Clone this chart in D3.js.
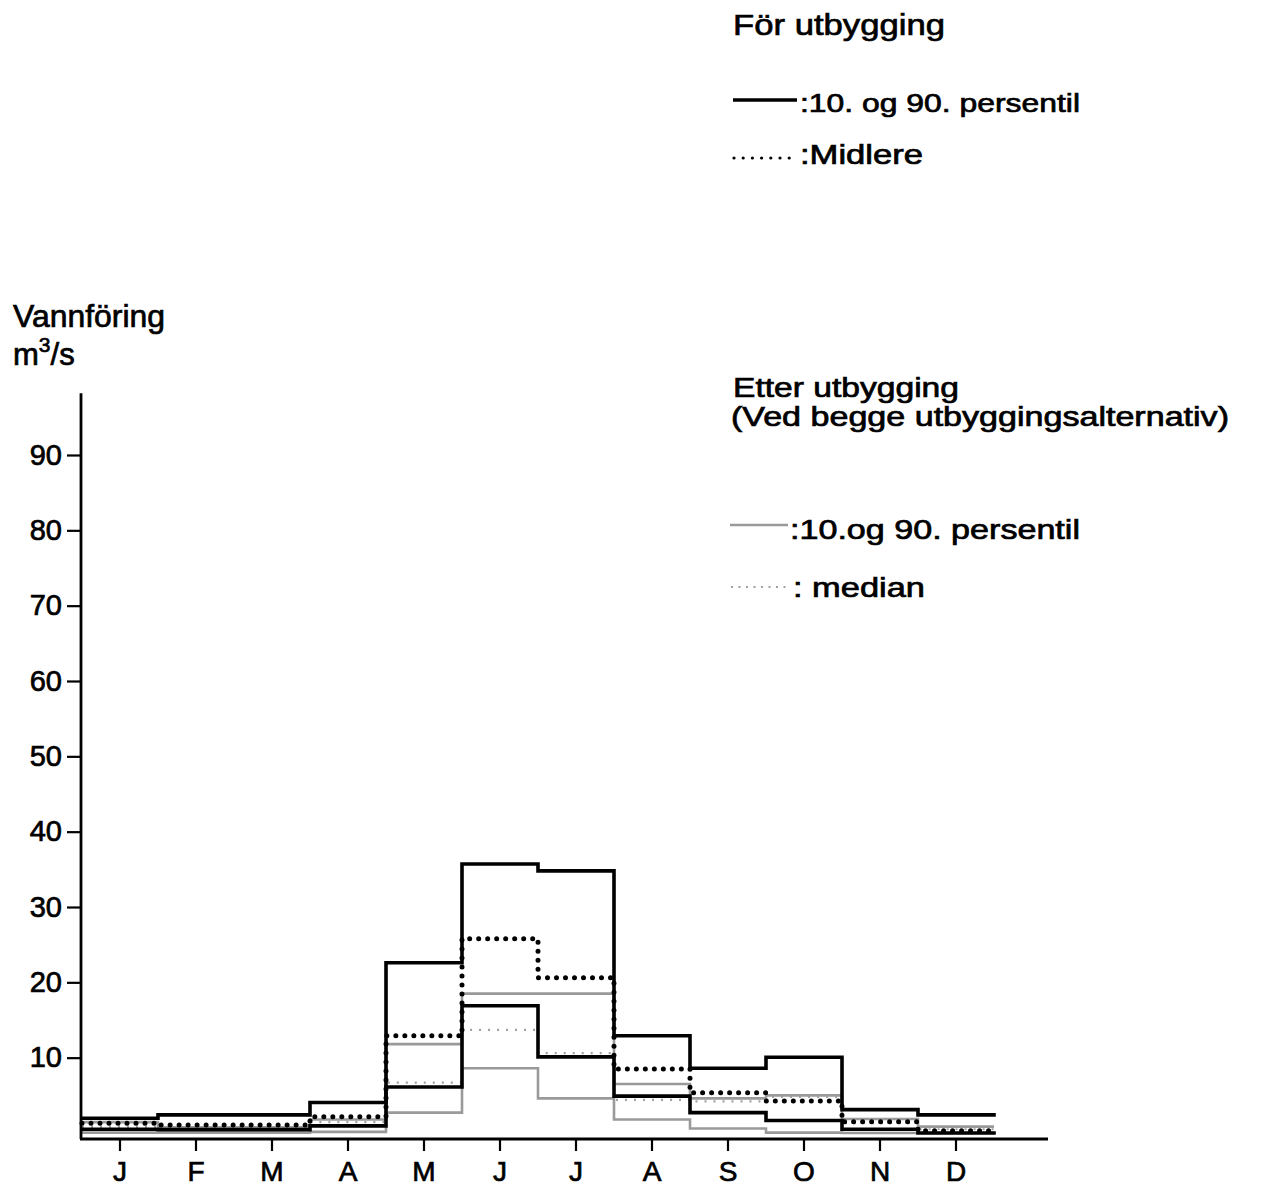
<!DOCTYPE html>
<html>
<head>
<meta charset="utf-8">
<script src="https://cdn.jsdelivr.net/npm/d3@7/dist/d3.min.js"></script>
<style>
  html, body { margin: 0; padding: 0; background: #fff; }
  svg { display: block; }
  text { font-family: "Liberation Sans", Arial, sans-serif; fill: #000; stroke: #000; stroke-width: 0.7px; }
</style>
</head>
<body>
<svg id="chart" width="1272" height="1190"></svg>
<script>
// ---- data (m3/s), monthly values ----
const months   = ["J","F","M","A","M","J","J","A","S","O","N","D"];
const yTicks   = [10, 20, 30, 40, 50, 60, 70, 80, 90];
// Før utbygging
const forP90   = [1.95, 2.4, 2.4, 4.05, 22.6, 35.7, 34.8, 12.9, 8.6, 10.05, 3.1, 2.4];
const forP10   = [0.5, 0.45, 0.45, 0.95, 6.1, 16.9, 10.1, 4.9, 2.7, 1.65, 0.5, 0];
const forMid   = [1.3, 1.05, 1.05, 2.15, 12.9, 25.8, 20.6, 8.5, 5.35, 4.25, 1.5, 0.3];
// Etter utbygging
const etterP90 = [1.45, 0.75, 0.75, 1.8, 11.8, 18.5, 18.5, 6.5, 4.6, 5.0, 1.85, 0.85];
const etterP10 = [0.05, 0.05, 0.05, 0.15, 2.7, 8.6, 4.6, 1.8, 0.6, 0.05, 0, 0];
const etterMed = [0.8, 0.75, 0.75, 1.45, 6.7, 13.7, 10.6, 4.4, 4.2, 4.8, 1.3, 0.5];

const svg = d3.select("#chart");

const x = d3.scaleBand().domain(d3.range(months.length)).range([82, 994]).paddingInner(0).paddingOuter(0);
const y = d3.scaleLinear().domain([0, 90]).range([1133, 455]);
const axisY = 1139;

// step line generator
function stepPoints(vals) {
  const pts = vals.map((v, i) => [x(i), y(v)]);
  pts.push([x(vals.length - 1) + x.bandwidth(), y(vals[vals.length - 1])]);
  return pts;
}
const line = d3.line().curve(d3.curveStepAfter);

const grayCol = "#9a9a9a";
const series = [
  { vals: etterP10, stroke: grayCol, w: 2.6, dash: null, cap: "butt" },
  { vals: etterP90, stroke: grayCol, w: 2.6, dash: null, cap: "butt" },
  { vals: etterMed, stroke: "#a0a0a0", w: 2.2, dash: "2 7", cap: "butt" },
  { vals: forP10, stroke: "#000", w: 3.6, dash: null, cap: "square" },
  { vals: forP90, stroke: "#000", w: 3.6, dash: null, cap: "square" },
  { vals: forMid, stroke: "#000", w: 5, dash: "0 9", cap: "round" }
];
svg.append("g").selectAll("path").data(series).join("path")
  .attr("d", d => line(stepPoints(d.vals)))
  .attr("fill", "none")
  .attr("stroke", d => d.stroke)
  .attr("stroke-width", d => d.w)
  .attr("stroke-dasharray", d => d.dash)
  .attr("stroke-linecap", d => d.cap)
  .attr("stroke-linejoin", "miter");

// axes lines
svg.append("line").attr("x1", 81).attr("x2", 81).attr("y1", axisY).attr("y2", y(98.2))
  .attr("stroke", "#000").attr("stroke-width", 2.8);
svg.append("line").attr("x1", 80).attr("x2", 1048).attr("y1", axisY).attr("y2", axisY)
  .attr("stroke", "#000").attr("stroke-width", 2.8);

// y axis ticks
const gy = svg.append("g").attr("transform", "translate(81,0)")
  .call(d3.axisLeft(y).tickValues(yTicks).tickSize(14).tickPadding(5).tickFormat(d3.format("d")));
gy.select(".domain").remove();
gy.selectAll(".tick line").attr("stroke", "#000").attr("stroke-width", 2.2);
gy.selectAll(".tick text").attr("font-size", 29).attr("font-family", "Liberation Sans, Arial, sans-serif")
  .attr("fill", "#000").attr("stroke", "#000").attr("stroke-width", 0.8);

// x axis ticks
const gx = svg.append("g").attr("transform", `translate(0,${axisY})`)
  .call(d3.axisBottom(x).tickSize(12).tickPadding(10).tickFormat(i => months[i]));
gx.select(".domain").remove();
gx.selectAll(".tick line").attr("stroke", "#000").attr("stroke-width", 2.2);
gx.selectAll(".tick text").attr("font-size", 28).attr("font-family", "Liberation Sans, Arial, sans-serif")
  .attr("fill", "#000").attr("stroke", "#000").attr("stroke-width", 0.8);

// y title
svg.append("text").attr("x", 13).attr("y", 327).attr("font-size", 31)
  .attr("textLength", 152).attr("lengthAdjust", "spacingAndGlyphs").text("Vannföring");
const unit = svg.append("text").attr("x", 13).attr("y", 365).attr("font-size", 31);
unit.append("tspan").text("m");
unit.append("tspan").attr("font-size", 21).attr("dy", -13).text("3");
unit.append("tspan").attr("dy", 13).text("/s");

// legends
function label(txt, xx, yy, size, len) {
  const t = svg.append("text").attr("x", xx).attr("y", yy).attr("font-size", size).text(txt);
  if (len) t.attr("textLength", len).attr("lengthAdjust", "spacingAndGlyphs");
  return t;
}
label("För utbygging", 733, 35, 30, 212);
svg.append("line").attr("x1", 733).attr("x2", 797).attr("y1", 100).attr("y2", 100)
  .attr("stroke", "#000").attr("stroke-width", 3.6);
label(":10. og 90. persentil", 800, 112, 26, 280);
svg.append("line").attr("x1", 734).attr("x2", 790).attr("y1", 158).attr("y2", 158)
  .attr("stroke", "#000").attr("stroke-width", 3.2).attr("stroke-dasharray", "0 9.2").attr("stroke-linecap", "round");
label(":Midlere", 800, 164, 27, 123);

label("Etter utbygging", 733, 397, 27, 226);
label("(Ved begge utbyggingsalternativ)", 731, 426, 27, 498);
svg.append("line").attr("x1", 730).attr("x2", 788).attr("y1", 525).attr("y2", 525)
  .attr("stroke", grayCol).attr("stroke-width", 2.6);
label(":10.og 90. persentil", 790, 539, 27, 290);
svg.append("line").attr("x1", 731).attr("x2", 790).attr("y1", 587).attr("y2", 587)
  .attr("stroke", "#a0a0a0").attr("stroke-width", 2.2).attr("stroke-dasharray", "2 5.5");
label(": median", 793, 597, 27, 132);
</script>
</body>
</html>
